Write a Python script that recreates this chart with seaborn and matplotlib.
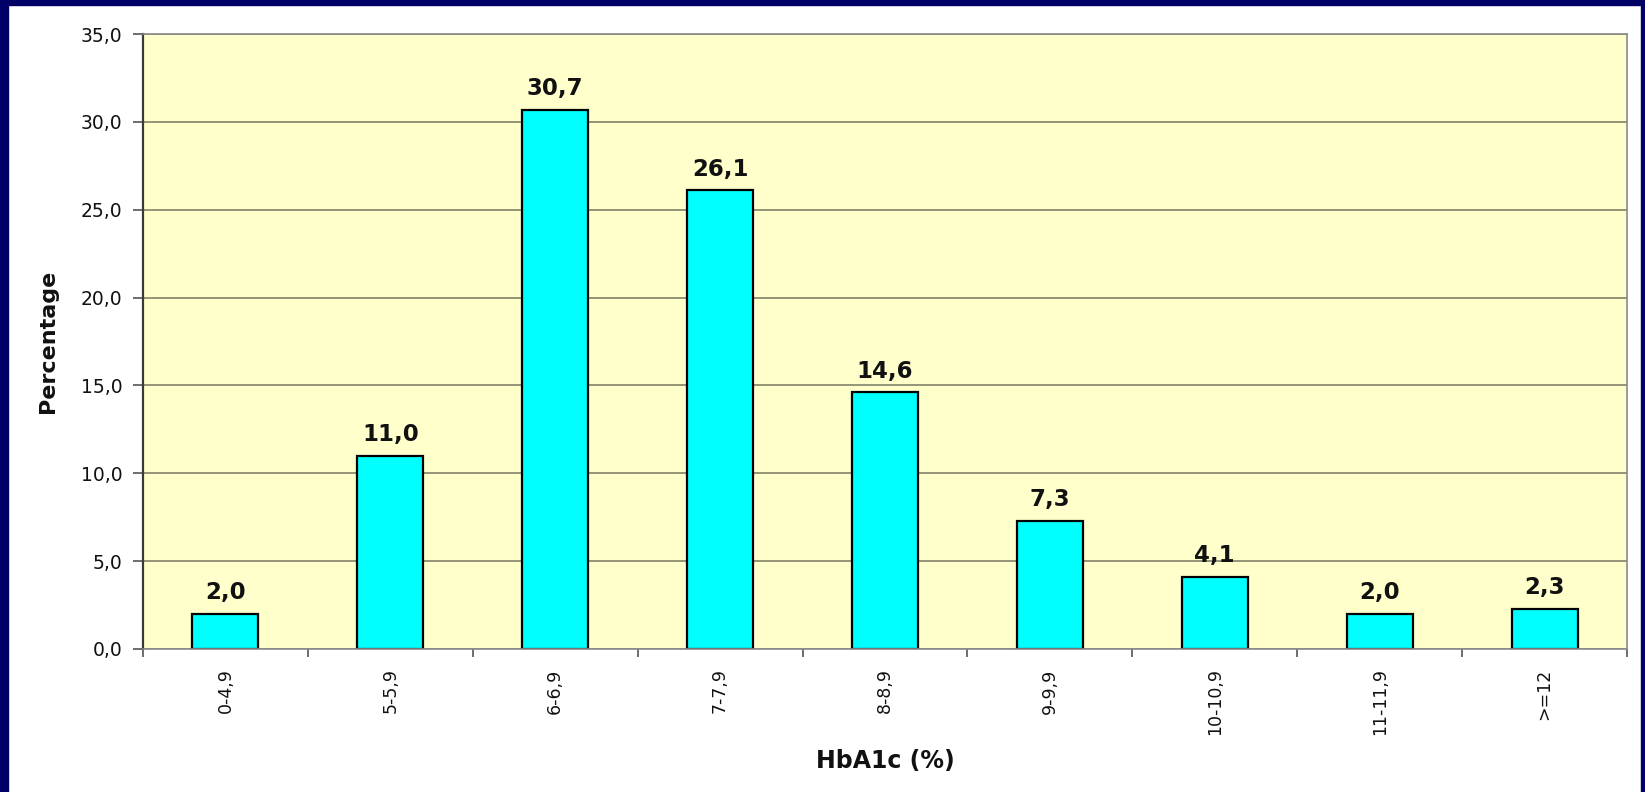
import matplotlib
matplotlib.use("Agg")
import matplotlib.pyplot as plt
from matplotlib.patches import Rectangle
from matplotlib.ticker import FixedLocator, FuncFormatter
import seaborn as sns
import pandas as pd

# HbA1c distribution
categories = ["0-4,9", "5-5,9", "6-6,9", "7-7,9", "8-8,9", "9-9,9", "10-10,9", "11-11,9", ">=12"]
percentages = [2.0, 11.0, 30.7, 26.1, 14.6, 7.3, 4.1, 2.0, 2.3]
y_ticks = [0, 5, 10, 15, 20, 25, 30, 35]

df = pd.DataFrame({"HbA1c": categories, "Percentage": percentages})

sns.set_theme(style="white")
plt.rcParams["font.family"] = ["DejaVu Sans"]

W, H = 1645, 792
fig = plt.figure(figsize=(W / 100, H / 100), dpi=100)
fig.patch.set_facecolor("white")

ax = fig.add_axes([143 / W, 1 - 649 / H, (1627 - 143) / W, (649 - 34) / H])
ax.set_facecolor("#FFFFCC")

sns.barplot(data=df, x="HbA1c", y="Percentage", color="#00FFFF",
            edgecolor="black", linewidth=1.6, width=0.4, saturation=1, ax=ax)

ax.set_xlim(-0.5, len(categories) - 0.5)
ax.set_ylim(0, 35)
ax.set_yticks(y_ticks)
ax.yaxis.set_major_formatter(FuncFormatter(lambda v, p: f"{v:.1f}".replace(".", ",")))
ax.yaxis.grid(True, color="#77775f", linewidth=1.1)
ax.set_axisbelow(True)

# category labels at bar centres, tick marks on the category boundaries
ax.set_xticks(range(len(categories)))
ax.set_xticklabels(categories, rotation=90)
ax.xaxis.set_minor_locator(FixedLocator([i - 0.5 for i in range(len(categories) + 1)]))
ax.tick_params(axis="x", which="major", length=0, pad=14, labelsize=12.5, labelcolor="#111111")
ax.tick_params(axis="x", which="minor", length=6, width=1.2, color="#555555", direction="out", bottom=True)
ax.tick_params(axis="y", length=7, width=1.2, color="#555555", direction="out", left=True,
               labelsize=13.5, labelcolor="#111111", pad=8)

for side in ["top", "right", "bottom"]:
    ax.spines[side].set_color("#8a8a8a")
    ax.spines[side].set_linewidth(1.2)
ax.spines["left"].set_color("#3a3a3a")
ax.spines["left"].set_linewidth(1.6)

labels = [f"{v:.1f}".replace(".", ",") for v in percentages]
ax.bar_label(ax.containers[0], labels=labels, padding=7, fontsize=16.5,
             fontweight="bold", color="#111111")

ax.set_xlabel("HbA1c (%)", fontsize=17, fontweight="bold", color="#111111")
ax.set_ylabel("Percentage", fontsize=16, fontweight="bold", color="#111111")
ax.xaxis.set_label_coords(0.5, (649 - 749) / (649 - 34))
ax.yaxis.set_label_coords((58 - 143) / (1627 - 143), 0.5)

# navy frame around the slide
navy = "#000066"
fig.patches.append(Rectangle((0, 0), 8 / W, 1, transform=fig.transFigure, color=navy, zorder=10))
fig.patches.append(Rectangle((0, 1 - 5 / H), 1, 5 / H, transform=fig.transFigure, color=navy, zorder=10))
fig.patches.append(Rectangle((1 - 4 / W, 0), 4 / W, 1, transform=fig.transFigure, color=navy, zorder=10))

fig.savefig("out.png", dpi=100)
